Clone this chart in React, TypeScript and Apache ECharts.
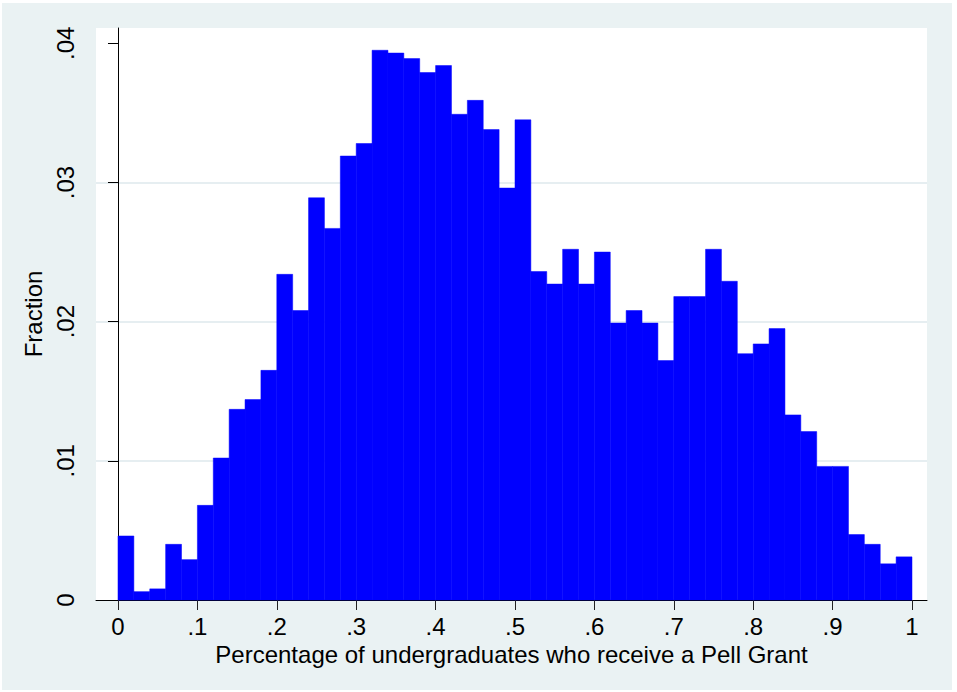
import React, { useEffect, useRef } from "react";
import * as echarts from "echarts";

// Histogram: 50 bins of width 0.02 over [0, 1]
const binWidth = 0.02;
const binStarts = Array.from({ length: 50 }, (_, i) => +(i * binWidth).toFixed(2));
const fractions = [
  0.0046, 0.0006, 0.0008, 0.0040, 0.0029, 0.0068, 0.0102, 0.0137, 0.0144, 0.0165,
  0.0234, 0.0208, 0.0289, 0.0267, 0.0319, 0.0328, 0.0395, 0.0393, 0.0389, 0.0379,
  0.0384, 0.0349, 0.0359, 0.0338, 0.0296, 0.0345, 0.0236, 0.0227, 0.0252, 0.0227,
  0.0250, 0.0199, 0.0208, 0.0199, 0.0172, 0.0218, 0.0218, 0.0252, 0.0229, 0.0177,
  0.0184, 0.0195, 0.0133, 0.0121, 0.0096, 0.0096, 0.0047, 0.0040, 0.0026, 0.0031,
];
const xTicks = [0, 0.1, 0.2, 0.3, 0.4, 0.5, 0.6, 0.7, 0.8, 0.9, 1];
const yTicks = [0, 0.01, 0.02, 0.03, 0.04];
const xTitle = "Percentage of undergraduates who receive a Pell Grant";
const yTitle = "Fraction";

const fmt = (v: number) => {
  const r = Math.round(v * 100) / 100;
  if (r === 0) return "0";
  if (r === 1) return "1";
  return String(r).replace(/^0/, "");
};

export default function App() {
  const ref = useRef<HTMLDivElement>(null);
  useEffect(() => {
    if (!ref.current) return;
    const chart = echarts.init(ref.current, undefined, { renderer: "svg" });
    const font = "'Liberation Sans', Arial, sans-serif";
    const data = binStarts.map((s, i) => [s, s + binWidth, fractions[i]]);
    chart.setOption({
      animation: false,
      backgroundColor: "#ffffff",
      graphic: [
        {
          type: "rect",
          z: -10,
          silent: true,
          shape: { x: 2, y: 3, width: 950, height: 687 },
          style: { fill: "#eaf2f3" },
        },
      ],
      grid: {
        left: 96,
        top: 28,
        right: 30,
        bottom: 92,
        show: true,
        backgroundColor: "#ffffff",
        borderWidth: 0,
      },
      xAxis: {
        type: "value",
        min: -0.0277,
        max: 1.0189,
        name: xTitle,
        nameLocation: "middle",
        nameGap: 42,
        nameTextStyle: { fontFamily: font, fontSize: 24, color: "#000" },
        axisLine: { show: true, onZero: false, lineStyle: { color: "#000", width: 1 } },
        axisTick: {
          show: true,
          length: 10,
          customValues: xTicks,
          lineStyle: { color: "#222", width: 1 },
        },
        axisLabel: {
          customValues: xTicks,
          formatter: (v: number) => fmt(v),
          margin: 14,
          fontFamily: font,
          fontSize: 24,
          color: "#000",
        },
        splitLine: { show: false },
      },
      yAxis: {
        type: "value",
        min: 0,
        max: 0.0411,
        name: yTitle,
        nameLocation: "middle",
        nameGap: 44,
        nameTextStyle: { fontFamily: font, fontSize: 24, color: "#000" },
        axisLine: { show: true, lineStyle: { color: "#000", width: 1 } },
        axisTick: {
          show: true,
          length: 10,
          customValues: yTicks,
          lineStyle: { color: "#000", width: 1 },
        },
        axisLabel: {
          customValues: yTicks,
          formatter: (v: number) => fmt(v),
          rotate: 90,
          margin: 19,
          fontFamily: font,
          fontSize: 24,
          color: "#000",
        },
        splitLine: {
          show: true,
          showMinLine: false,
          showMaxLine: false,
          lineStyle: { color: "#e6eef1", width: 2 },
        },
      },
      series: [
        {
          type: "custom",
          data,
          encode: { x: [0, 1], y: 2 },
          renderItem: (params: any, api: any) => {
            const p0 = api.coord([api.value(0), 0]);
            const p1 = api.coord([api.value(1), api.value(2)]);
            return {
              type: "rect",
              shape: { x: p0[0], y: p1[1], width: p1[0] - p0[0], height: p0[1] - p1[1] },
              style: { fill: "#0000ff", stroke: "#0000ff", lineWidth: 0.5 },
            };
          },
        },
      ],
    });
    return () => chart.dispose();
  }, []);
  return (
    <div
      ref={ref}
      style={{ position: "fixed", left: 0, top: 0, width: 957, height: 692 }}
    />
  );
}
